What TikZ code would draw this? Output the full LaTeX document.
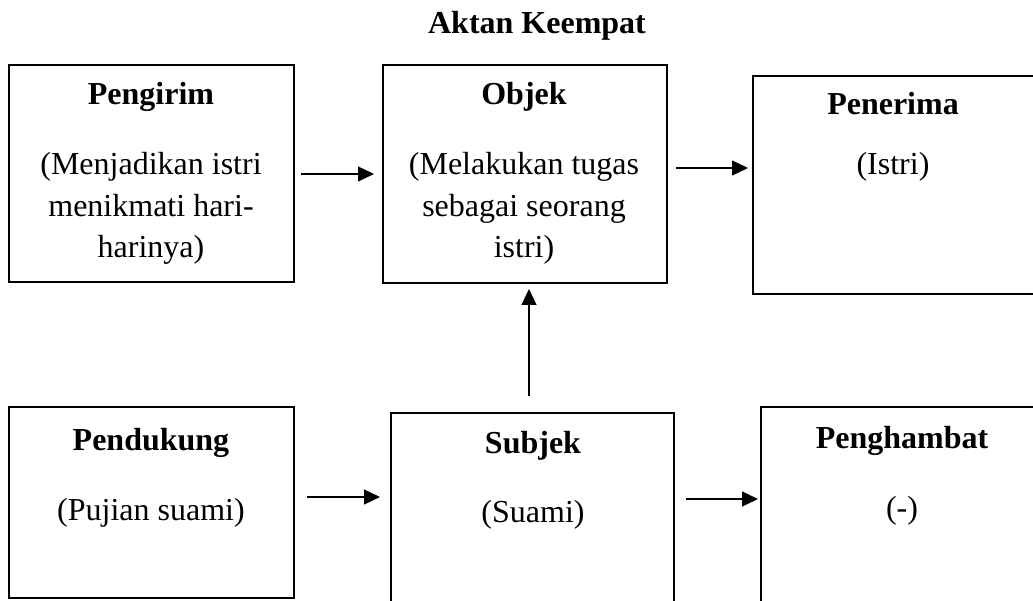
\documentclass[tikz,border=0pt]{standalone}
\usepackage{fontspec}
\setmainfont{Liberation Serif}
\usetikzlibrary{arrows.meta}
\begin{document}
\begin{tikzpicture}[x=1pt,y=-1pt,
  box/.style={draw=black,line width=1.2pt,rectangle,inner sep=0pt},
  ttl/.style={anchor=base,font=\fontsize{32}{42}\selectfont\bfseries,inner sep=0pt},
  txt/.style={anchor=base,font=\fontsize{32}{42}\selectfont,inner sep=0pt},
  arr/.style={line width=1.2pt,-{Triangle[length=16pt,width=15pt]}}]
\useasboundingbox (0,0) rectangle (1033,601);
\clip (0,0) rectangle (1033,601);
% boxes
\node[box,minimum width=285pt,minimum height=217pt] (pengirim) at (151.5,173.5) {};
\node[box,minimum width=284pt,minimum height=218pt] (objek) at (525,174) {};
\node[box,minimum width=300pt,minimum height=218pt] (penerima) at (903,185) {};
\node[box,minimum width=285pt,minimum height=191pt] (pendukung) at (151.5,502.5) {};
\node[box,minimum width=283pt,minimum height=200pt] (subjek) at (532.5,513) {};
\node[box,minimum width=300pt,minimum height=210pt] (penghambat) at (911,512) {};
% title
\node[ttl] (title) at (537,34) {Aktan Keempat};
% texts
\node[ttl] (t1) at (151,105) {Pengirim};
\node[txt] (t1a) at (151,175) {(Menjadikan istri};
\node[txt] (t1b) at (151,217) {menikmati hari-};
\node[txt] (t1c) at (151,258) {harinya)};
\node[ttl] (t2) at (524,105) {Objek};
\node[txt] (t2a) at (524,175) {(Melakukan tugas};
\node[txt] (t2b) at (524,217) {sebagai seorang};
\node[txt] (t2c) at (524,258) {istri)};
\node[ttl] (t3) at (893,115) {Penerima};
\node[txt] (t3a) at (893,175) {(Istri)};
\node[ttl] (t4) at (151,450) {Pendukung};
\node[txt] (t4a) at (151,520) {(Pujian suami)};
\node[ttl] (t5) at (533,453) {Subjek};
\node[txt] (t5a) at (533,522) {(Suami)};
\node[ttl] (t6) at (902,448) {Penghambat};
\node[txt] (t6a) at (902,518) {(-)};
% arrow ends
\coordinate (a1s) at (301,174); \coordinate (a1e) at (374,174);
\coordinate (a2s) at (676,168); \coordinate (a2e) at (748,168);
\coordinate (a3s) at (529,396); \coordinate (a3e) at (529,289);
\coordinate (a4s) at (307,497); \coordinate (a4e) at (380,497);
\coordinate (a5s) at (686,499); \coordinate (a5e) at (758,499);
\draw[arr] (a1s) -- (a1e);
\draw[arr] (a2s) -- (a2e);
\draw[arr] (a3s) -- (a3e);
\draw[arr] (a4s) -- (a4e);
\draw[arr] (a5s) -- (a5e);
\end{tikzpicture}
\end{document}
